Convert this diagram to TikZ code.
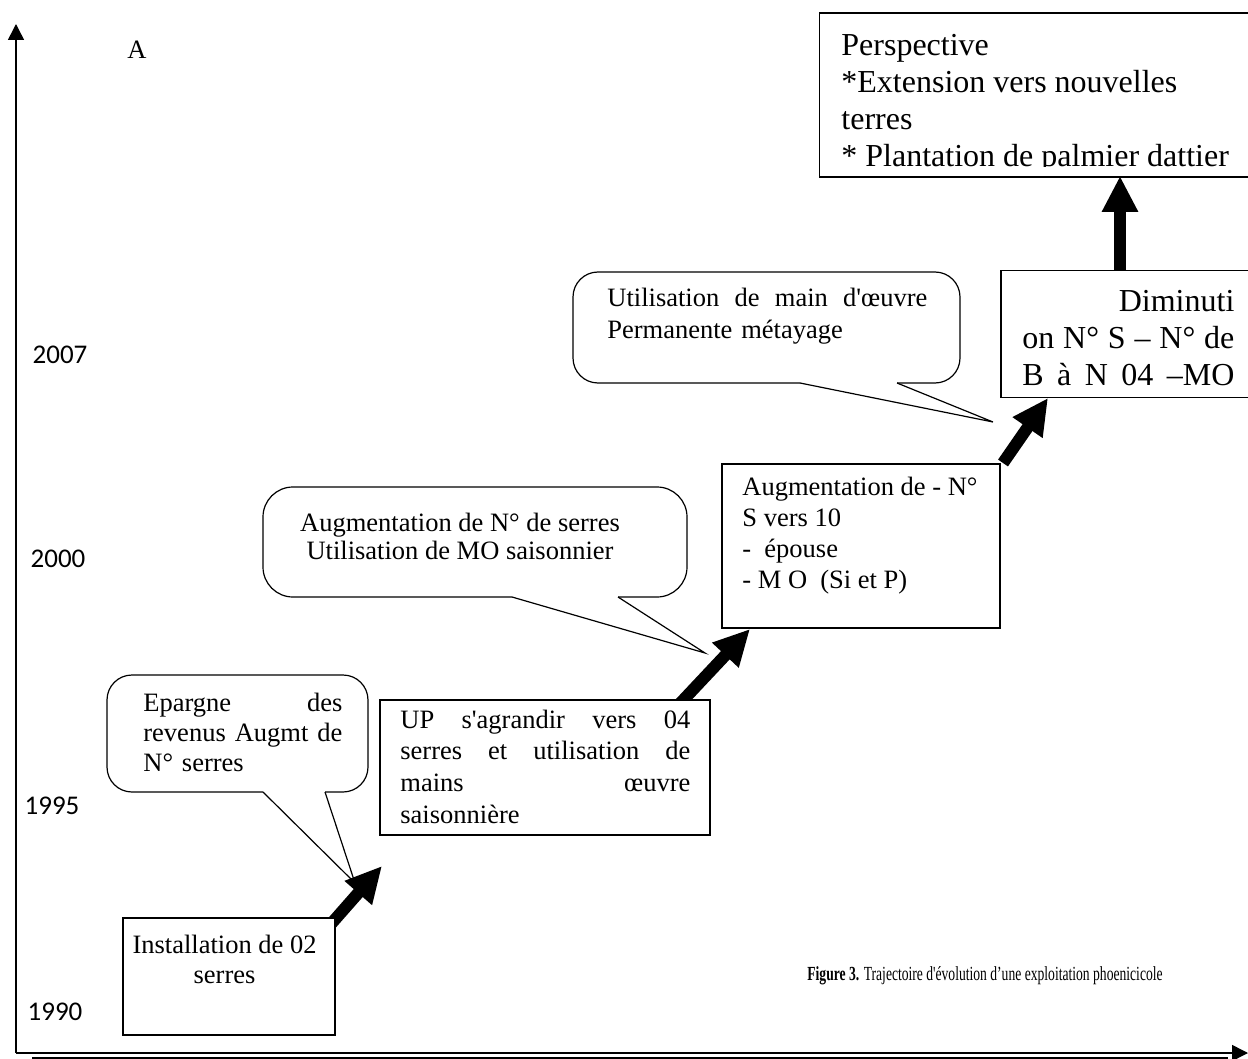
\documentclass[tikz,border=0pt]{standalone}
\usepackage{fontspec}
\setmainfont{Liberation Serif}[Ligatures=TeXOff]
\newfontfamily\yearfont{Carlito}
\usetikzlibrary{arrows.meta,calc}

% baseline strut so that a block's top edge sits a fixed distance above its first baseline
\newcommand{\topstrut}{\rule{0pt}{0.75em}}
% a line spread over a given width
\newcommand{\spread}[2]{\makebox[#1][l]{#2}}

\tikzset{
  frame/.style={draw, line width=0.75pt, fill=white, inner sep=0pt},
  bubble/.style={draw, line width=0.6pt},
  body/.style={inner sep=0pt, font=\fontsize{13.25}{15.5}\selectfont},
  bigbody/.style={inner sep=0pt, font=\fontsize{16}{18.5}\selectfont},
  year/.style={inner sep=0pt, anchor=base, font=\yearfont\fontsize{13.5}{16}\selectfont},
  bigarrow/.style={line width=6pt, -{Triangle[length=18pt,width=17pt]}},
  axisline/.style={line width=0.75pt, -{Triangle[length=8pt,width=8pt]}},
}

\begin{document}
\begin{tikzpicture}[x=0.5pt, y=-0.5pt]
\useasboundingbox (0,0) rectangle (1248,1059);
\clip (0,0) rectangle (1248,1059);

% axes
\coordinate (origin) at (16,1053);
\coordinate (ytop) at (16,24);
\coordinate (xend) at (1248,1053);
\coordinate (x2a) at (32,1058);
\coordinate (x2b) at (1228,1058);
\draw[axisline] (origin) -- (ytop);
\draw[axisline] (origin) -- (xend);
\draw[line width=0.6pt] (x2a) -- (x2b);

\node[body, anchor=base] (lblA) at (137,59) {A};

% years
\node[year] (y2007) at (60,364) {2007};
\node[year] (y2000) at (58,567) {2000};
\node[year] (y1995) at (52,814) {1995};
\node[year] (y1990) at (55,1020) {1990};

% thick arrows (drawn first, boxes sit on top)
\coordinate (a1s) at (331,924);
\coordinate (a1e) at (382,866);
\coordinate (a2s) at (672,712);
\coordinate (a2e) at (750,629);
\coordinate (a3s) at (1003,463);
\coordinate (a3e) at (1048,398);
\coordinate (a4s) at (1120,272);
\coordinate (a4e) at (1120,176);
\draw[bigarrow] (a1s) -- (a1e);
\draw[bigarrow] (a2s) -- (a2e);
\draw[bigarrow] (a3s) -- (a3e);
\draw[bigarrow] (a4s) -- (a4e);

% 1990 : installation
\node[frame, minimum width=106pt, minimum height=58.5pt] (inst) at (229,976.5) {};
\node[body, anchor=north, align=center, font=\fontsize{13.25}{15}\selectfont] (instT) at (224.5,933)
  {\topstrut Installation de 02\\serres};

% callout : savings
\node[body, anchor=north west, text width=99.5pt, align=left, font=\fontsize{13.25}{15}\selectfont] (eparT) at (143,691)
  {\topstrut\spread{99.5pt}{Epargne\hfill des}\\
   \spread{99.5pt}{revenus\hfill Augmt\hfill de}\\
   N° serres};
\coordinate (eparTip) at (355,883);
\draw[bubble, rounded corners=12.5pt] (263,792) -- (107,792) -- (107,675) -- (368,675) -- (368,792) -- (325,792);
\draw[bubble] (263,792) -- (eparTip) -- (325,792);

% 1995 : extension to 04 greenhouses
\node[frame, minimum width=165pt, minimum height=67.5pt] (up) at (545,767.5) {};
\node[body, anchor=north west, text width=145pt, align=left, font=\fontsize{13.25}{15.85}\selectfont] (upT) at (400,708)
  {\topstrut\spread{145pt}{UP\hfill s'agrandir\hfill vers\hfill 04}\\
   \spread{145pt}{serres\hfill et\hfill utilisation\hfill de}\\
   \spread{145pt}{mains\hfill œuvre}\\
   saisonnière};

% callout : more greenhouses
\node[body, anchor=north, align=center, font=\fontsize{13.25}{14}\selectfont] (augcT) at (460,511)
  {\topstrut Augmentation de N° de serres\\Utilisation de MO saisonnier};
\coordinate (augcTip) at (705,653);
\draw[bubble, rounded corners=15pt] (512,597) -- (263,597) -- (263,487) -- (687,487) -- (687,597) -- (618,597);
\draw[bubble] (512,597) -- (augcTip) -- (618,597);

% 2000 : ten greenhouses
\node[frame, minimum width=139pt, minimum height=82pt] (aug) at (861,546) {};
\node[body, anchor=north west, align=left] (augT) at (742,475)
  {\topstrut Augmentation de - N°\\
   S vers 10\\
   -\ \ épouse\\
   - M O\ \ (Si et P)};

% callout : permanent labour
\node[body, anchor=north west, text width=160pt, align=left, font=\fontsize{13.25}{16}\selectfont] (utilT) at (607,286)
  {\topstrut\spread{160pt}{Utilisation\hfill de\hfill main\hfill d'œuvre}\\
   Permanente métayage};
\coordinate (utilTip) at (993,422);
\draw[bubble, rounded corners=12.5pt] (800,383) -- (573,383) -- (573,272) -- (960,272) -- (960,383) -- (897,383);
\draw[bubble] (800,383) -- (utilTip) -- (897,383);

% 2007 : reduction
\node[frame, minimum width=129.5pt, minimum height=63.5pt] (dim) at (1130.5,334) {};
\node[bigbody, anchor=north west, text width=106pt, align=left] (dimT) at (1022,287)
  {\topstrut\makebox[106pt][r]{Diminuti}\\
   \spread{106pt}{on\hfill N°\hfill S\hfill –\hfill N°\hfill de}\\
   \spread{106pt}{B\hfill à\hfill N\hfill 04\hfill –MO}};

% perspective
\node[frame, minimum width=220.5pt, minimum height=82pt] (persp) at (1040,95) {};
\begin{scope}
  \clip (819,14) rectangle (1260,167);
  \node[bigbody, anchor=north west, align=left] (perspT) at (841,31)
    {\topstrut Perspective\\
     *Extension vers nouvelles\\
     terres\\
     * Plantation de palmier dattier};
\end{scope}

% caption
\node[inner sep=0pt, anchor=base west, font=\fontsize{10}{12}\selectfont] (caption) at (807,980)
  {\scalebox{0.68}[1]{\textbf{Figure 3.} Trajectoire d'évolution d’une exploitation phoenicicole}};

\end{tikzpicture}
\end{document}
